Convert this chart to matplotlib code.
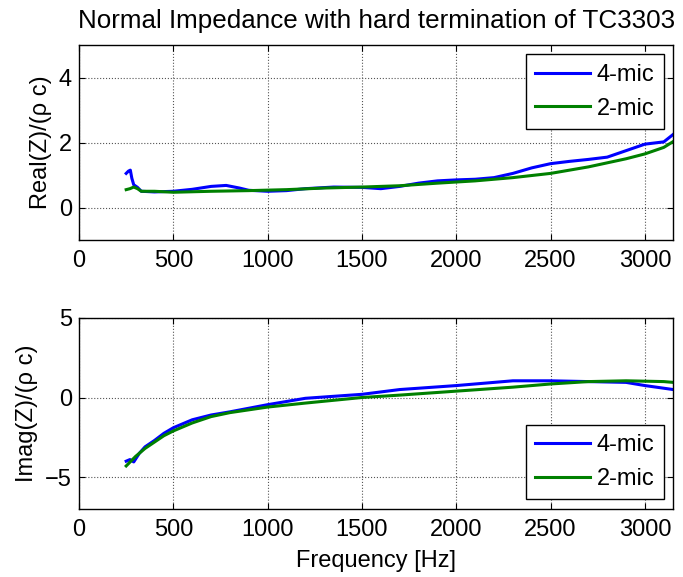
import numpy as np
import matplotlib.pyplot as plt

plt.rcParams['font.family'] = ['Liberation Sans', 'DejaVu Sans']

# real part, 4-mic
f_re4 = [250, 262, 272, 280, 290, 310, 330, 400, 500, 600, 700, 780, 850, 900, 1000, 1100, 1200,
         1350, 1500, 1600, 1700, 1800, 1900, 2000, 2100, 2200, 2300, 2400, 2500, 2600, 2700,
         2800, 2900, 3000, 3100, 3150]
re4 = [1.05, 1.12, 1.15, 0.9, 0.7, 0.62, 0.5, 0.48, 0.5, 0.56, 0.65, 0.68, 0.6, 0.53, 0.5, 0.52, 0.58,
       0.63, 0.62, 0.58, 0.65, 0.75, 0.82, 0.85, 0.87, 0.92, 1.05, 1.22, 1.35, 1.42, 1.48,
       1.55, 1.75, 1.95, 2.02, 2.25]
# real part, 2-mic
f_re2 = [250, 270, 290, 310, 330, 400, 500, 700, 900, 1100, 1300, 1500, 1700, 1900, 2100,
         2300, 2500, 2700, 2900, 3000, 3100, 3150]
re2 = [0.55, 0.58, 0.63, 0.58, 0.5, 0.5, 0.47, 0.5, 0.52, 0.55, 0.6, 0.63, 0.67, 0.75, 0.82,
       0.92, 1.05, 1.25, 1.5, 1.65, 1.85, 2.03]
# imaginary part
f_im4 = [250, 270, 290, 320, 350, 400, 450, 500, 600, 700, 800, 1000, 1200, 1500, 1700, 2000, 2300,
         2500, 2700, 2900, 3000, 3150]
im4 = [-4.0, -3.9, -4.05, -3.5, -3.1, -2.7, -2.25, -1.9, -1.4, -1.1, -0.9, -0.45, -0.05, 0.2, 0.5,
       0.75, 1.05, 1.05, 1.0, 0.95, 0.75, 0.5]
f_im2 = [250, 300, 350, 400, 450, 500, 600, 700, 800, 1000, 1200, 1500, 1700, 2000, 2300, 2500,
         2700, 2900, 3100, 3150]
im2 = [-4.3, -3.7, -3.2, -2.8, -2.4, -2.1, -1.6, -1.2, -0.95, -0.6, -0.35, 0.0, 0.15, 0.4, 0.65,
       0.85, 1.0, 1.05, 1.0, 0.95]

xticks = [0, 500, 1000, 1500, 2000, 2500, 3000]
fs = 17

fig = plt.figure(figsize=(6.83, 5.77), dpi=100)
ax1 = fig.add_axes([0.1157, 0.584, 0.870, 0.338])
ax2 = fig.add_axes([0.1157, 0.118, 0.870, 0.331])

for ax in (ax1, ax2):
    ax.set_xlim(0, 3150)
    ax.set_xticks(xticks)
    ax.grid(True, color='#555555', linestyle=':', linewidth=0.8)
    ax.tick_params(direction='in', top=True, right=True, labelsize=fs, length=4, pad=5)
    ax.tick_params(axis='x', pad=7)
    for s in ax.spines.values():
        s.set_linewidth(1.0)

leg_kw = dict(fontsize=fs, fancybox=False, edgecolor='black', framealpha=1,
              handlelength=2.3, handletextpad=0.3, borderaxespad=0.4)

ax1.plot(f_re4, re4, color='#0000ff', lw=2.2, label='4-mic')
ax1.plot(f_re2, re2, color='#008000', lw=2.2, label='2-mic')
ax1.set_ylim(-1, 5)
ax1.set_yticks([0, 2, 4])
ax1.set_ylabel('Real(Z)/(ρ c)', fontsize=fs, labelpad=5)
ax1.set_title('Normal Impedance with hard termination of TC3303', fontsize=18.7, pad=12)
ax1.legend(loc='upper right', **leg_kw)

ax2.plot(f_im4, im4, color='#0000ff', lw=2.2, label='4-mic')
ax2.plot(f_im2, im2, color='#008000', lw=2.2, label='2-mic')
ax2.set_ylim(-7, 5)
ax2.set_yticks([-5, 0, 5])
ax2.set_ylabel('Imag(Z)/(ρ c)', fontsize=fs, labelpad=5)
ax2.set_xlabel('Frequency [Hz]', fontsize=fs, labelpad=7)
ax2.legend(loc='lower right', **leg_kw)

fig.savefig('out.png')
